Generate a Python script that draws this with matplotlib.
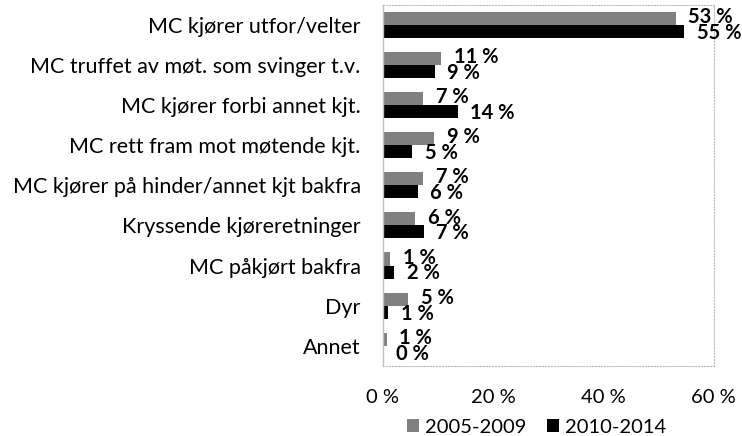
import matplotlib
matplotlib.use("Agg")
import matplotlib.pyplot as plt
import numpy as np

plt.rcParams['font.family'] = ['Lato', 'DejaVu Sans']

categories = [
    "MC kjører utfor/velter",
    "MC truffet av møt. som svinger t.v.",
    "MC kjører forbi annet kjt.",
    "MC rett fram mot møtende kjt.",
    "MC kjører på hinder/annet kjt bakfra",
    "Kryssende kjøreretninger",
    "MC påkjørt bakfra",
    "Dyr",
    "Annet",
]
series_names = ["2005-2009", "2010-2014"]
vals_0509 = [53.1, 10.6, 7.3, 9.3, 7.3, 5.9, 1.3, 4.6, 0.7]
vals_1014 = [54.6, 9.4, 13.6, 5.3, 6.3, 7.4, 2.1, 1.0, 0.1]
xticks = [0, 20, 40, 60]

fig = plt.figure(figsize=(7.42, 4.36), dpi=100)
ax = fig.add_axes([0.516, 0.161, 0.446, 0.828])

y = np.arange(len(categories))
h = 0.325
b1 = ax.barh(y - h / 2, vals_0509, height=h, color="#808080", label=series_names[0])
b2 = ax.barh(y + h / 2, vals_1014, height=h, color="black", label=series_names[1])

# value labels, bold, just past the bar end (they overlap in the original too)
for bars, vals, dy in [(b1, vals_0509, 1), (b2, vals_1014, -1)]:
    for bar, v in zip(bars, vals):
        ax.annotate(f"{round(v)} %", (bar.get_width(), bar.get_y() + bar.get_height() / 2),
                    xytext=(9, dy), textcoords="offset points", va="center", ha="left",
                    fontsize=14.5, fontweight="bold", color="black", annotation_clip=False)

ax.set_xlim(0, 60)
ax.set_ylim(len(categories) - 0.5, -0.5)
ax.set_xticks(xticks)
ax.set_xticklabels([f"{t} %" for t in xticks])
ax.set_yticks(y)
ax.set_yticklabels(categories)
ax.tick_params(axis="both", length=0, labelsize=14.5, colors="#000000")
ax.tick_params(axis="y", pad=16, labelsize=15.5)
ax.tick_params(axis="x", pad=17)

for s in ["top", "right", "bottom"]:
    ax.spines[s].set_linestyle(":")
    ax.spines[s].set_color("#bbbbbb")
    ax.spines[s].set_linewidth(0.8)
ax.spines["left"].set_color("#c0c0c0")
ax.spines["left"].set_linewidth(1.0)

ax.legend(loc="center", bbox_to_anchor=(0.465, -0.17), ncol=2, frameon=False,
          fontsize=14.5, handlelength=0.6, handleheight=0.6, handletextpad=0.3,
          columnspacing=1.0, borderpad=0)

fig.savefig("out.png", dpi=100)
